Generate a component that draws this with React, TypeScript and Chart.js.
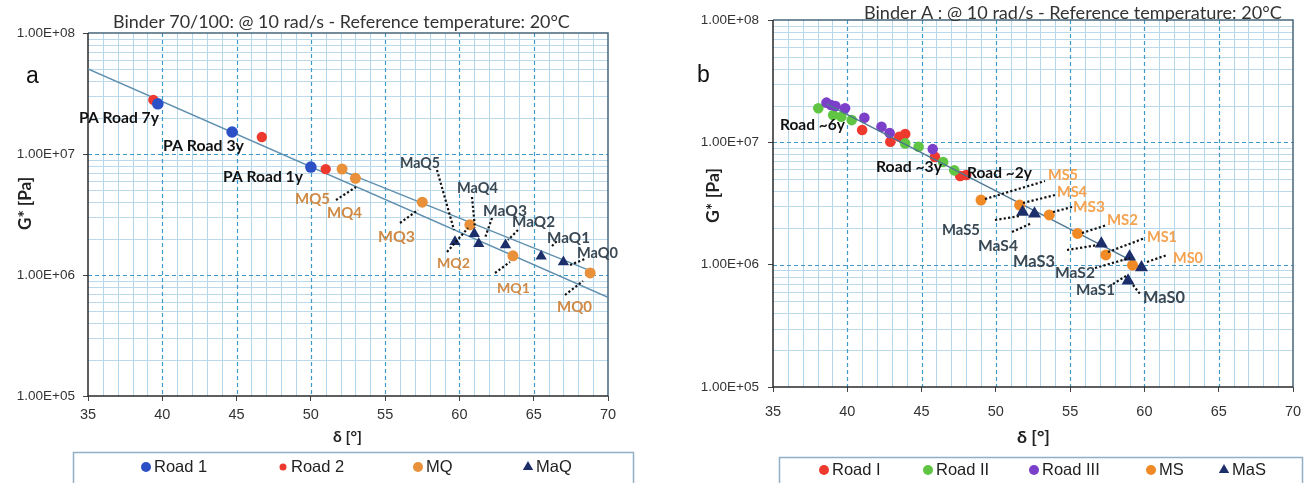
import { useEffect, useRef } from 'react';
import { Chart, registerables } from 'chart.js';
Chart.register(...registerables);

// ---------- Panel a : Binder 70/100 ----------
const road1Delta = [39.7, 44.7, 50.0];
const road1G = [2.6e7, 1.52e7, 7.8e6];
const road2Delta = [39.4, 46.7, 51.0];
const road2G = [2.8e7, 1.38e7, 7.5e6];
const mqDelta = [52.1, 53.0, 57.5, 60.7, 63.6, 68.8];
const mqG = [7.5e6, 6.3e6, 4.0e6, 2.6e6, 1.44e6, 1.04e6];
const maqDelta = [59.7, 61.0, 61.3, 63.1, 65.5, 67.0];
const maqG = [1.88e6, 2.19e6, 1.81e6, 1.77e6, 1.43e6, 1.28e6];
const fitADelta = [35, 70];
const fitAG = [5.04e7, 6.55e5];
const fitBDelta = [51.8, 69.0];
const fitBG = [7.5e6, 1.06e6];

// ---------- Panel b : Binder A ----------
const roadIDelta = [41.0, 42.9, 43.5, 43.9, 45.9, 47.6, 48.0];
const roadIG = [1.26e7, 1.01e7, 1.11e7, 1.17e7, 7.6e6, 5.3e6, 5.4e6];
const roadIIDelta = [38.05, 39.05, 39.6, 40.3, 43.9, 44.8, 46.45, 47.2];
const roadIIG = [1.9e7, 1.67e7, 1.62e7, 1.52e7, 9.8e6, 9.2e6, 6.9e6, 5.9e6];
const roadIIIDelta = [38.6, 38.9, 39.2, 39.85, 41.15, 42.3, 42.85, 45.75];
const roadIIIG = [2.11e7, 2.02e7, 1.98e7, 1.9e7, 1.59e7, 1.34e7, 1.19e7, 8.8e6];
const msDelta = [49.0, 51.6, 53.6, 55.5, 57.4, 59.2];
const msG = [3.37e6, 3.07e6, 2.55e6, 1.8e6, 1.2e6, 9.9e5];
const masDelta = [51.8, 52.6, 57.1, 59.0, 59.8, 58.9];
const masG = [2.69e6, 2.61e6, 1.48e6, 1.16e6, 9.5e5, 7.4e5];
const fitCDelta = [38.6, 58.8];
const fitCG = [2.06e7, 1.13e6];

// ---------- Axes ----------
const xTickValues = [35, 40, 45, 50, 55, 60, 65, 70];
const yTickValues = [1e5, 1e6, 1e7, 1e8];

const titleA = 'Binder 70/100: @ 10 rad/s - Reference temperature: 20°C';
const titleB = 'Binder A : @ 10 rad/s - Reference temperature: 20°C';
const yTitle = 'G* [Pa]';
const xTitle = 'δ [°]';

const legendA = ['Road 1', 'Road 2', 'MQ', 'MaQ'];
const legendB = ['Road I', 'Road II', 'Road III', 'MS', 'MaS'];

const COL = {
  blue: '#2c50c6',
  red: '#ee3a2e',
  orange: '#e8913a',
  navy: '#1c2f6b',
  green: '#5fc542',
  purple: '#7b3fc9',
  msOrange: '#f08a26',
  fit: '#5f8fae',
  mqText: '#cf8a45',
  msText: '#f4a24f',
  maText: '#3a4853',
};

const pts = (xs: number[], ys: number[]) => xs.map((x, i) => ({ x, y: ys[i] }));

const fmtE = (v: number) => {
  const e = Math.floor(Math.log10(v) + 1e-9);
  const m = v / Math.pow(10, e);
  return m.toFixed(2) + 'E+' + String(e).padStart(2, '0');
};

const LATO = "Lato, 'Open Sans', sans-serif";
const ARIAL = "'Liberation Sans', Arial, sans-serif";

type Lbl = { t: string; x1: number; x2: number; y: number; c: string };
type Seg = [number, number, number, number];

const labelsA: Lbl[] = [
  { t: 'PA Road 7y', x1: 79, x2: 159, y: 118, c: '#111' },
  { t: 'PA Road 3y', x1: 163, x2: 244, y: 146, c: '#111' },
  { t: 'PA Road 1y', x1: 223, x2: 303, y: 177, c: '#111' },
  { t: 'MQ5', x1: 295, x2: 330, y: 199, c: COL.mqText },
  { t: 'MQ4', x1: 327, x2: 362, y: 213, c: COL.mqText },
  { t: 'MQ3', x1: 378, x2: 415, y: 237, c: COL.mqText },
  { t: 'MQ2', x1: 437, x2: 470, y: 263, c: COL.mqText },
  { t: 'MQ1', x1: 497, x2: 530, y: 288, c: COL.mqText },
  { t: 'MQ0', x1: 557, x2: 592, y: 307, c: COL.mqText },
  { t: 'MaQ5', x1: 400, x2: 440, y: 163, c: COL.maText },
  { t: 'MaQ4', x1: 457, x2: 498, y: 188, c: COL.maText },
  { t: 'MaQ3', x1: 483, x2: 527, y: 211, c: COL.maText },
  { t: 'MaQ2', x1: 512, x2: 555, y: 222, c: COL.maText },
  { t: 'MaQ1', x1: 547, x2: 590, y: 238, c: COL.maText },
  { t: 'MaQ0', x1: 577, x2: 618, y: 253, c: COL.maText },
];
const leadersA: Seg[] = [
  [336, 200, 356, 187],
  [400, 223, 418, 210],
  [437, 170, 454, 230],
  [472, 197, 475, 228],
  [492, 218, 485, 238],
  [518, 230, 508, 240],
  [552, 246, 558, 240],
  [570, 265, 585, 259],
  [447, 252, 468, 228],
  [495, 273, 510, 262],
  [565, 295, 583, 281],
];
const labelsB: Lbl[] = [
  { t: 'Road ~6y', x1: 780, x2: 845, y: 125, c: '#111' },
  { t: 'Road ~3y', x1: 876, x2: 942, y: 167, c: '#111' },
  { t: 'Road ~2y', x1: 967, x2: 1032, y: 173, c: '#111' },
  { t: 'MS5', x1: 1048, x2: 1078, y: 175, c: COL.msText },
  { t: 'MS4', x1: 1057, x2: 1087, y: 192, c: COL.msText },
  { t: 'MS3', x1: 1073, x2: 1105, y: 207, c: COL.msText },
  { t: 'MS2', x1: 1107, x2: 1138, y: 220, c: COL.msText },
  { t: 'MS1', x1: 1147, x2: 1177, y: 237, c: COL.msText },
  { t: 'MS0', x1: 1173, x2: 1203, y: 258, c: COL.msText },
  { t: 'MaS5', x1: 942, x2: 980, y: 230, c: COL.maText },
  { t: 'MaS4', x1: 978, x2: 1018, y: 246, c: COL.maText },
  { t: 'MaS3', x1: 1013, x2: 1055, y: 262, c: COL.maText },
  { t: 'MaS2', x1: 1055, x2: 1095, y: 273, c: COL.maText },
  { t: 'MaS1', x1: 1076, x2: 1115, y: 290, c: COL.maText },
  { t: 'MaS0', x1: 1143, x2: 1185, y: 298, c: COL.maText },
];
const leadersB: Seg[] = [
  [985, 199, 1045, 181],
  [1023, 203, 1055, 195],
  [1053, 212, 1072, 207],
  [1082, 233, 1107, 225],
  [1108, 252, 1145, 238],
  [1147, 262, 1167, 255],
  [995, 220, 1020, 216],
  [1012, 232, 1032, 223],
  [1067, 250, 1098, 245],
  [1095, 268, 1130, 258],
  [1113, 284, 1126, 276],
  [1133, 285, 1140, 294],
];

function fitText(ctx: CanvasRenderingContext2D, t: string, x1: number, x2: number, y: number, fam: string, weight: string, color: string) {
  ctx.font = `${weight} 20px ${fam}`;
  const w = ctx.measureText(t).width;
  const size = (20 * (x2 - x1)) / w;
  ctx.font = `${weight} ${size.toFixed(2)}px ${fam}`;
  ctx.fillStyle = color;
  ctx.textAlign = 'left';
  ctx.textBaseline = 'middle';
  ctx.fillText(t, x1, y);
}

function drawMarker(ctx: CanvasRenderingContext2D, kind: string, x: number, y: number, r: number, color: string) {
  ctx.fillStyle = color;
  ctx.beginPath();
  if (kind === 'tri') {
    ctx.moveTo(x, y - r);
    ctx.lineTo(x + r * 0.866, y + r * 0.5);
    ctx.lineTo(x - r * 0.866, y + r * 0.5);
    ctx.closePath();
  } else {
    ctx.arc(x, y, r, 0, Math.PI * 2);
  }
  ctx.fill();
}

type PanelCfg = {
  title: string; titleX1: number; titleX2: number; titleY: number;
  letter: string; letterX: number; letterY: number;
  yTitleX: number; yTitleY1: number; yTitleY2: number;
  xTitleX1: number; xTitleX2: number; xTitleY: number;
  labels: Lbl[]; leaders: Seg[];
  legendBox: [number, number, number];
  legend: { t: string; kind: string; r: number; c: string; mx: number }[];
  legendY: number;
};

function vline(ctx: CanvasRenderingContext2D, px: number, top: number, bottom: number) {
  ctx.beginPath(); ctx.moveTo(px, top); ctx.lineTo(px, bottom); ctx.stroke();
}
function hline(ctx: CanvasRenderingContext2D, py: number, left: number, right: number) {
  ctx.beginPath(); ctx.moveTo(left, py); ctx.lineTo(right, py); ctx.stroke();
}

const panelPlugin = {
  id: 'panelDecor',
  beforeDatasetsDraw(chart: any) {
    const { ctx, chartArea, scales } = chart;
    const { left, right, top, bottom } = chartArea;
    const x = scales.x, y = scales.y;
    ctx.save();
    ctx.lineWidth = 1;
    ctx.setLineDash([]);
    // minor vertical
    ctx.strokeStyle = '#b5d6ea';
    for (let v = 36; v < 70; v++) {
      if (v % 5 === 0) continue;
      vline(ctx, Math.round(x.getPixelForValue(v)) + 0.5, top, bottom);
    }
    // minor horizontal
    ctx.strokeStyle = '#bcd9eb';
    for (let e = 5; e < 8; e++) {
      for (let m = 2; m <= 9; m++) {
        hline(ctx, Math.round(y.getPixelForValue(m * Math.pow(10, e))) + 0.5, left, right);
      }
    }
    // major dashed
    ctx.strokeStyle = '#3f9acb';
    ctx.setLineDash([4, 3]);
    ctx.lineWidth = 1.2;
    for (const v of xTickValues) {
      if (v === 35 || v === 70) continue;
      vline(ctx, Math.round(x.getPixelForValue(v)) + 0.5, top, bottom);
    }
    ctx.lineWidth = 1;
    for (const v of yTickValues) {
      if (v === 1e5 || v === 1e8) continue;
      hline(ctx, Math.round(y.getPixelForValue(v)) + 0.5, left, right);
    }
    ctx.setLineDash([]);
    // borders
    ctx.lineWidth = 1.5;
    ctx.strokeStyle = '#47667b';
    ctx.beginPath(); ctx.moveTo(left, top); ctx.lineTo(right, top); ctx.lineTo(right, bottom); ctx.stroke();
    ctx.strokeStyle = '#2a2a2a';
    ctx.beginPath(); ctx.moveTo(left, top); ctx.lineTo(left, bottom); ctx.lineTo(right, bottom); ctx.stroke();
    ctx.restore();
  },
  afterDraw(chart: any) {
    const p: PanelCfg = chart.options.plugins.panelDecor;
    const ctx: CanvasRenderingContext2D = chart.ctx;
    ctx.save();
    // title
    fitText(ctx, p.title, p.titleX1, p.titleX2, p.titleY, LATO, 'normal', '#333');
    // panel letter
    ctx.font = `23px ${ARIAL}`;
    ctx.fillStyle = '#111';
    ctx.textAlign = 'left';
    ctx.textBaseline = 'middle';
    ctx.fillText(p.letter, p.letterX, p.letterY);
    // y title (rotated)
    ctx.save();
    ctx.translate(p.yTitleX, (p.yTitleY1 + p.yTitleY2) / 2);
    ctx.rotate(-Math.PI / 2);
    const half = (p.yTitleY2 - p.yTitleY1) / 2;
    fitText(ctx, yTitle, -half, half, 0, LATO, 'bold', '#222');
    ctx.restore();
    // x title
    fitText(ctx, xTitle, p.xTitleX1, p.xTitleX2, p.xTitleY, LATO, 'bold', '#222');
    // leaders
    ctx.strokeStyle = '#111';
    ctx.lineWidth = 2.2;
    ctx.setLineDash([2.2, 2.2]);
    for (const [a, b, c, d] of p.leaders) {
      ctx.beginPath(); ctx.moveTo(a, b); ctx.lineTo(c, d); ctx.stroke();
    }
    ctx.setLineDash([]);
    // labels
    for (const l of p.labels) fitText(ctx, l.t, l.x1, l.x2, l.y, LATO, 'bold', l.c);
    // legend box
    const [lx1, lx2, ly] = p.legendBox;
    ctx.strokeStyle = '#8fb0c6';
    ctx.lineWidth = 1.5;
    ctx.strokeRect(lx1 + 0.5, ly + 0.5, lx2 - lx1, 60);
    ctx.font = `16.5px ${ARIAL}`;
    ctx.textBaseline = 'middle';
    ctx.textAlign = 'left';
    for (const it of p.legend) {
      drawMarker(ctx, it.kind, it.mx, p.legendY, it.r, it.c);
      ctx.fillStyle = '#222';
      ctx.fillText(it.t, it.mx + 8, p.legendY);
    }
    ctx.restore();
  },
};

function scalesFor(yWidth: number, xPad: number, yPad: number) {
  return {
    x: {
      type: 'linear', min: 35, max: 70,
      afterBuildTicks: (s: any) => { s.ticks = xTickValues.map((v) => ({ value: v })); },
      afterFit: (s: any) => { s.height = 40; },
      ticks: { font: { family: ARIAL, size: 14.5 }, color: '#333', padding: xPad, maxRotation: 0, autoSkip: false, callback: (v: any) => String(v) },
      grid: { drawOnChartArea: false, drawTicks: true, tickLength: 5, color: '#444', lineWidth: 1 },
      border: { display: false },
    },
    y: {
      type: 'logarithmic', min: 1e5, max: 1e8,
      afterBuildTicks: (s: any) => { s.ticks = yTickValues.map((v) => ({ value: v })); },
      afterFit: (s: any) => { s.width = yWidth; },
      ticks: { font: { family: ARIAL, size: 13.5 }, color: '#333', padding: yPad, autoSkip: false, callback: (v: any) => fmtE(Number(v)) },
      grid: { drawOnChartArea: false, drawTicks: true, tickLength: 5, color: '#444', lineWidth: 1 },
      border: { display: false },
    },
  };
}

const scatter = (label: string, xs: number[], ys: number[], color: string, r: number, style = 'circle') => ({
  type: 'scatter', label, data: pts(xs, ys), pointStyle: style, pointRadius: r,
  backgroundColor: color, borderColor: color, borderWidth: 0, showLine: false,
});
const fitLine = (xs: number[], ys: number[], color: string, w: number) => ({
  type: 'line', data: pts(xs, ys), borderColor: color, borderWidth: w, pointRadius: 0, fill: false, tension: 0,
});

function configA(): any {
  return {
    type: 'scatter',
    data: {
      datasets: [
        scatter(legendA[3], maqDelta, maqG, COL.navy, 6.5, 'triangle'),
        scatter(legendA[2], mqDelta, mqG, COL.orange, 5.5),
        scatter(legendA[0], road1Delta, road1G, COL.blue, 5.8),
        scatter(legendA[1], road2Delta, road2G, COL.red, 5.2),
        fitLine(fitADelta, fitAG, COL.fit, 1.4),
        fitLine(fitBDelta, fitBG, COL.fit, 1.4),
      ],
    },
    options: {
      responsive: false, animation: false, events: [],
      layout: { padding: { left: 0, right: 707, top: 33, bottom: 47 } },
      scales: scalesFor(88, 5, 8),
      plugins: {
        legend: { display: false }, tooltip: { enabled: false },
        panelDecor: {
          title: titleA, titleX1: 113, titleX2: 570, titleY: 22,
          letter: 'a', letterX: 26, letterY: 77,
          yTitleX: 25, yTitleY1: 177, yTitleY2: 230,
          xTitleX1: 333, xTitleX2: 362, xTitleY: 437,
          labels: labelsA, leaders: leadersA,
          legendBox: [73, 633, 452], legendY: 467,
          legend: [
            { t: legendA[0], kind: 'circle', r: 5, c: COL.blue, mx: 146 },
            { t: legendA[1], kind: 'circle', r: 3.5, c: COL.red, mx: 283 },
            { t: legendA[2], kind: 'circle', r: 5, c: COL.orange, mx: 418 },
            { t: legendA[3], kind: 'tri', r: 6, c: COL.navy, mx: 528 },
          ],
        },
      },
    },
    plugins: [panelPlugin],
  };
}

function configB(): any {
  return {
    type: 'scatter',
    data: {
      datasets: [
        scatter(legendB[4], masDelta, masG, COL.navy, 7.5, 'triangle'),
        scatter(legendB[3], msDelta, msG, COL.msOrange, 5.5),
        fitLine(fitCDelta, fitCG, '#4f7690', 1.3),
        scatter(legendB[2], roadIIIDelta, roadIIIG, COL.purple, 5.3),
        scatter(legendB[1], roadIIDelta, roadIIG, COL.green, 5.3),
        scatter(legendB[0], roadIDelta, roadIG, COL.red, 5.3),
      ],
    },
    options: {
      responsive: false, animation: false, events: [],
      layout: { padding: { left: 0, right: 22, top: 20, bottom: 56 } },
      scales: scalesFor(773, 11, 9),
      plugins: {
        legend: { display: false }, tooltip: { enabled: false },
        panelDecor: {
          title: titleB, titleX1: 864, titleX2: 1282, titleY: 13,
          letter: 'b', letterX: 697, letterY: 76,
          yTitleX: 713, yTitleY1: 168, yTitleY2: 223,
          xTitleX1: 1017, xTitleX2: 1050, xTitleY: 437,
          labels: labelsB, leaders: leadersB,
          legendBox: [779, 1302, 457], legendY: 470,
          legend: [
            { t: legendB[0], kind: 'circle', r: 5, c: COL.red, mx: 824 },
            { t: legendB[1], kind: 'circle', r: 5, c: COL.green, mx: 928 },
            { t: legendB[2], kind: 'circle', r: 5, c: COL.purple, mx: 1034 },
            { t: legendB[3], kind: 'circle', r: 5, c: COL.msOrange, mx: 1151 },
            { t: legendB[4], kind: 'tri', r: 6, c: COL.navy, mx: 1224 },
          ],
        },
      },
    },
    plugins: [panelPlugin],
  };
}

export default function App() {
  const refA = useRef<HTMLCanvasElement>(null);
  const refB = useRef<HTMLCanvasElement>(null);
  useEffect(() => {
    document.body.style.margin = '0';
    const ca = new Chart(refA.current as HTMLCanvasElement, configA());
    const cb = new Chart(refB.current as HTMLCanvasElement, configB());
    return () => { ca.destroy(); cb.destroy(); };
  }, []);
  const cs: any = { position: 'absolute', left: 0, top: 0, width: 1315, height: 483 };
  return (
    <div style={{ position: 'relative', width: 1315, height: 483, background: '#fff', overflow: 'hidden' }}>
      <canvas ref={refA} width={1315} height={483} style={cs} />
      <canvas ref={refB} width={1315} height={483} style={cs} />
    </div>
  );
}
